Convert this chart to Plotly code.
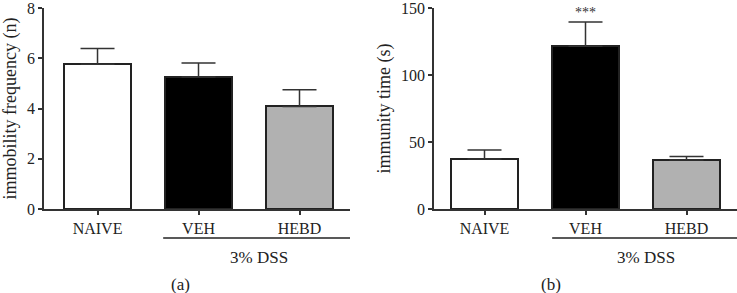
import plotly.graph_objects as go

categories = ["NAIVE", "VEH", "HEBD"]
freq_mean = [5.76, 5.25, 4.08]
freq_err = [0.63, 0.56, 0.67]
time_mean = [37.4, 121.5, 36.6]
time_err = [6.6, 18.1, 2.5]
fill_colors = ["#ffffff", "#000000", "#b1b1b1"]
group_label = "3% DSS"
sig_label = "***"

W, H = 737, 293
FONT = "Liberation Serif"
AX = "#333333"
FS = 16

fig = go.Figure()
xs = [0, 1, 2]
fig.add_trace(go.Bar(
    x=xs, y=freq_mean, width=0.663, marker=dict(color=fill_colors, line=dict(color="#222222", width=2)),
    error_y=dict(type="data", array=freq_err, symmetric=False, arrayminus=[0, 0, 0],
                 color="#333333", thickness=1.5, width=17),
    xaxis="x", yaxis="y", showlegend=False, hoverinfo="skip"))
fig.add_trace(go.Bar(
    x=xs, y=time_mean, width=0.663, marker=dict(color=fill_colors, line=dict(color="#222222", width=2)),
    error_y=dict(type="data", array=time_err, symmetric=False, arrayminus=[0, 0, 0],
                 color="#333333", thickness=1.5, width=17),
    xaxis="x2", yaxis="y2", showlegend=False, hoverinfo="skip"))

ydom = [1 - 209 / H, 1 - 8 / H]
axcommon = dict(showline=True, linecolor=AX, linewidth=1.5, ticks="outside", ticklen=4,
                tickcolor=AX, tickwidth=1.5, showgrid=False, zeroline=False,
                ticklabeloverflow="allow", automargin=False,
                tickfont=dict(family=FONT, size=FS, color="#222"))
fig.update_layout(
    width=W, height=H, margin=dict(l=0, r=0, t=0, b=0, autoexpand=False),
    paper_bgcolor="white", plot_bgcolor="white", bargap=0,
    xaxis=dict(domain=[44 / W, 350 / W], range=[-0.53, 2.5], tickvals=xs, ticktext=categories,
               anchor="y", **axcommon),
    yaxis=dict(domain=ydom, range=[0, 8.0001], tickvals=[0, 2, 4, 6, 8], anchor="x",
               title=dict(text="immobility frequency (n)", font=dict(family=FONT, size=18, color="#222"), standoff=6),
               **axcommon),
    xaxis2=dict(domain=[434 / W, 1], range=[-0.5, 2.5], tickvals=xs, ticktext=categories,
                anchor="y2", **axcommon),
    yaxis2=dict(domain=ydom, range=[0, 150.001], tickvals=[0, 50, 100, 150], anchor="x2",
                title=dict(text="immunity time (s)", font=dict(family=FONT, size=18, color="#222"), standoff=6),
                **axcommon),
)

ly = 1 - 238 / H
fig.add_shape(type="line", xref="x", yref="paper", x0=0.65, x1=2.51, y0=ly, y1=ly,
              line=dict(color="#222", width=1.5))
fig.add_shape(type="line", xref="x2", yref="paper", x0=0.67, x1=2.5, y0=ly, y1=ly,
              line=dict(color="#222", width=1.5))

tf = dict(family=FONT, size=17, color="#222")
common_ann = dict(showarrow=False, font=tf, xanchor="center", yanchor="middle")
fig.add_annotation(xref="x", yref="paper", x=1.6, y=1 - 257 / H, text=group_label, **common_ann)
fig.add_annotation(xref="x2", yref="paper", x=1.6, y=1 - 257 / H, text=group_label, **common_ann)
fig.add_annotation(xref="paper", yref="paper", x=180 / W, y=1 - 284 / H, text="(a)", **common_ann)
fig.add_annotation(xref="paper", yref="paper", x=551 / W, y=1 - 284 / H, text="(b)", **common_ann)
fig.add_annotation(xref="x2", yref="y2", x=1, y=time_mean[1] + time_err[1], text=sig_label,
                   showarrow=False, xanchor="center", yanchor="middle", yshift=9,
                   font=dict(family=FONT, size=14, color="#333"))

fig.write_html("out.html", config={"displayModeBar": False},
               post_script="document.body.style.margin='0';")
